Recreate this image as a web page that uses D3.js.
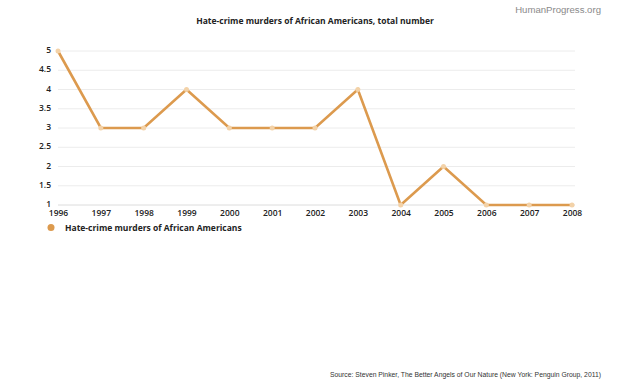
<!DOCTYPE html>
<html>
<head>
<meta charset="utf-8">
<script src="https://d3js.org/d3.v7.min.js"></script>
<style>
  body { margin: 0; background: #fff; }
</style>
</head>
<body>
<div id="chart"></div>
<script>
const years = [1996, 1997, 1998, 1999, 2000, 2001, 2002, 2003, 2004, 2005, 2006, 2007, 2008];
const murders = [5, 3, 3, 4, 3, 3, 3, 4, 1, 2, 1, 1, 1];
const yTicks = [1, 1.5, 2, 2.5, 3, 3.5, 4, 4.5, 5];

const width = 624, height = 386;
const plotLeft = 58, plotRight = 572, plotTop = 51, plotBottom = 205;
const orange = "#dc9a4e";

const svg = d3.select("#chart").append("svg")
  .attr("width", width)
  .attr("height", height)
  .style("font-family", "'Open Sans', sans-serif");

svg.append("rect").attr("width", width).attr("height", height).attr("fill", "#fff");

const x = d3.scalePoint().domain(years).range([plotLeft, plotRight]);
const y = d3.scaleLinear().domain([1, 5]).range([plotBottom, plotTop]);

// gridlines
svg.append("g")
  .selectAll("line")
  .data(yTicks)
  .enter().append("line")
  .attr("x1", plotLeft)
  .attr("x2", plotRight + 3)
  .attr("y1", d => y(d))
  .attr("y2", d => y(d))
  .attr("stroke", d => d === 1 ? "#dcdcdc" : "#ececec")
  .attr("stroke-width", 1);

// y axis labels
const yAxis = d3.axisLeft(y).tickValues(yTicks).tickSize(0).tickPadding(0)
  .tickFormat(d => d);
svg.append("g")
  .attr("transform", `translate(${plotLeft - 7}, 0)`)
  .call(yAxis)
  .call(g => g.select(".domain").remove())
  .selectAll("text")
  .attr("dy", "0.2em")
  .style("font-family", "'Open Sans'")
  .attr("font-size", 8.5)
  .attr("font-weight", 600)
  .attr("fill", "#222");

// x axis labels
const xAxis = d3.axisBottom(x).tickSize(0).tickPadding(0);
svg.append("g")
  .attr("transform", `translate(0, ${plotBottom + 5})`)
  .call(xAxis)
  .call(g => g.select(".domain").remove())
  .selectAll("text")
  .style("font-family", "'Open Sans'")
  .attr("font-size", 8.5)
  .attr("font-weight", 600)
  .attr("fill", "#222");

// line
const line = d3.line()
  .x((d, i) => x(years[i]))
  .y(d => y(d));

svg.append("path")
  .attr("d", line(murders))
  .attr("fill", "none")
  .attr("stroke", orange)
  .attr("stroke-width", 2.6)
  .attr("stroke-linejoin", "miter");

svg.append("g")
  .selectAll("circle")
  .data(murders)
  .enter().append("circle")
  .attr("cx", (d, i) => x(years[i]))
  .attr("cy", d => y(d))
  .attr("r", 2.5)
  .attr("fill", "#f3d2a8");

// title
svg.append("text")
  .attr("x", 315)
  .attr("y", 24)
  .attr("text-anchor", "middle")
  .attr("font-size", 8.5)
  .attr("font-weight", 700)
  .attr("fill", "#222")
  .text("Hate-crime murders of African Americans, total number");

svg.append("text")
  .attr("x", 601)
  .attr("y", 13)
  .attr("text-anchor", "end")
  .style("font-family", "'Liberation Sans Narrow', 'Liberation Sans', sans-serif")
  .attr("font-size", 9.6)
  .attr("fill", "#8a8a8a")
  .text("HumanProgress.org");

// legend
svg.append("circle")
  .attr("cx", 51)
  .attr("cy", 227.5)
  .attr("r", 3.5)
  .attr("fill", orange);

svg.append("text")
  .attr("x", 65)
  .attr("y", 231)
  .attr("font-size", 8.5)
  .attr("font-weight", 700)
  .attr("fill", "#222")
  .text("Hate-crime murders of African Americans");

// source
svg.append("text")
  .attr("x", 601)
  .attr("y", 377)
  .attr("text-anchor", "end")
  .style("font-family", "'Liberation Sans', sans-serif")
  .attr("font-size", 6.8)
  .attr("fill", "#333")
  .text("Source: Steven Pinker, The Better Angels of Our Nature (New York: Penguin Group, 2011)");
</script>
</body>
</html>
